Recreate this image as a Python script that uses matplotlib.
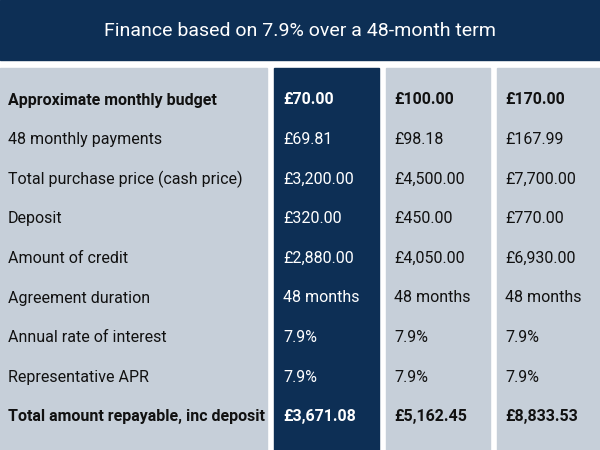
import matplotlib
matplotlib.use("Agg")
import matplotlib.pyplot as plt
from matplotlib.patches import Rectangle

title = "Finance based on 7.9% over a 48-month term"
row_labels = ["Approximate monthly budget", "48 monthly payments", "Total purchase price (cash price)",
              "Deposit", "Amount of credit", "Agreement duration", "Annual rate of interest",
              "Representative APR", "Total amount repayable, inc deposit"]
col1 = ["£70.00", "£69.81", "£3,200.00", "£320.00", "£2,880.00", "48 months", "7.9%", "7.9%", "£3,671.08"]
col2 = ["£100.00", "£98.18", "£4,500.00", "£450.00", "£4,050.00", "48 months", "7.9%", "7.9%", "£5,162.45"]
col3 = ["£170.00", "£167.99", "£7,700.00", "£770.00", "£6,930.00", "48 months", "7.9%", "7.9%", "£8,833.53"]
bold_rows = [0, 8]

navy = "#0d2f55"
grey = "#c6cfd9"
plt.rcParams['font.family'] = ['Roboto', 'DejaVu Sans']

fig = plt.figure(figsize=(6, 4.5), dpi=100)
ax = fig.add_axes([0, 0, 1, 1])
ax.set_xlim(0, 600); ax.set_ylim(450, 0); ax.axis('off')

ax.add_patch(Rectangle((0, 0), 600, 60, color=navy))
ax.text(300, 31, title, color="white", fontsize=14, ha="center", va="center")

ax.add_patch(Rectangle((0, 68), 267, 382, color=grey))
ax.add_patch(Rectangle((274, 68), 105, 382, color=navy))
ax.add_patch(Rectangle((386, 68), 104, 382, color=grey))
ax.add_patch(Rectangle((497, 68), 103, 382, color=grey))

y0, dy = 100, 39.6
for i, lab in enumerate(row_labels):
    y = y0 + i * dy
    fw = "bold" if i in bold_rows else "normal"
    ax.text(8, y, lab, fontsize=11.5, va="center", color="#111111", fontweight=fw)
    ax.text(283, y, col1[i], fontsize=11.5, va="center", color="white", fontweight=fw)
    ax.text(394, y, col2[i], fontsize=11.5, va="center", color="#111111", fontweight=fw)
    ax.text(505, y, col3[i], fontsize=11.5, va="center", color="#111111", fontweight=fw)

fig.savefig("out.png", dpi=100)
